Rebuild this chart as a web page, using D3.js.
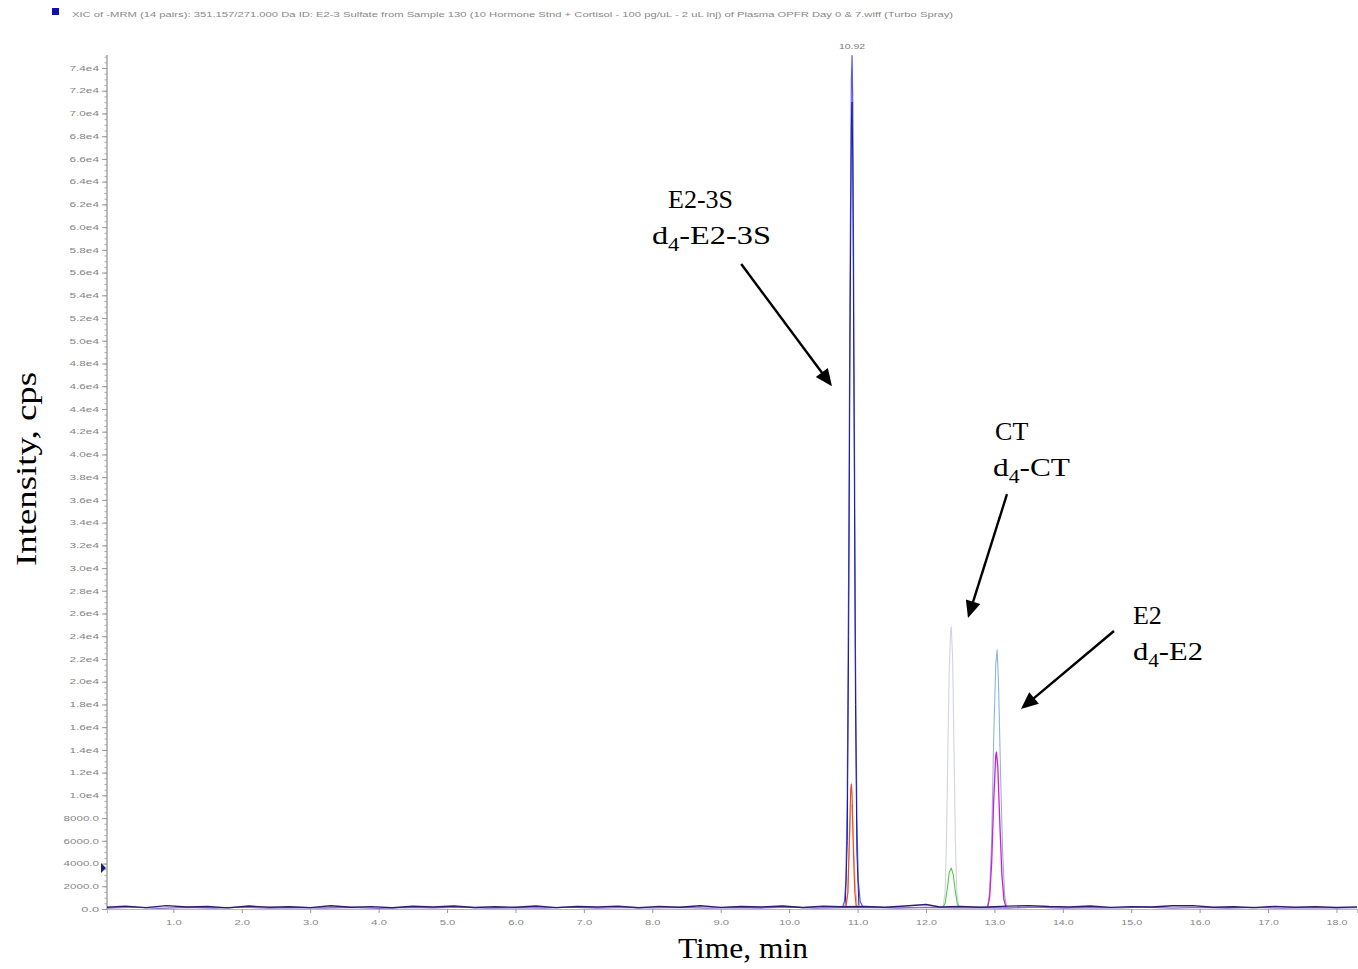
<!DOCTYPE html>
<html>
<head>
<meta charset="utf-8">
<script src="https://cdn.jsdelivr.net/npm/d3@7"></script>
<style>
  html, body { margin: 0; padding: 0; background: #fff; }
  svg { display: block; }
</style>
</head>
<body>
<svg id="chart" width="1358" height="969"></svg>
<script>
// ---------------- DATA ----------------
const titleText = "XIC of -MRM (14 pairs): 351.157/271.000 Da ID: E2-3 Sulfate from Sample 130 (10 Hormone Stnd + Cortisol - 100 pg/uL - 2 uL inj) of Plasma OPFR Day 0 & 7.wiff (Turbo Spray)";
const xTickValues = [1,2,3,4,5,6,7,8,9,10,11,12,13,14,15,16,17,18];
const yTickValues = d3.range(0, 74001, 2000);
const peakLabel = {t: 10.92, v: 75100, text: "10.92"};

// baseline noise (time, intensity)
const baselineNavy = [[0.03,150],[0.3,250],[0.6,120],[0.9,300],[1.2,180],[1.5,220],[1.8,100],[2.1,260],[2.4,150],[2.7,200],[3.0,120],[3.3,280],[3.6,160],[3.9,210],[4.2,110],[4.5,240],[4.8,170],[5.1,260],[5.4,130],[5.7,200],[6.0,150],[6.3,270],[6.6,120],[6.9,220],[7.2,180],[7.5,250],[7.8,110],[8.1,230],[8.4,160],[8.7,280],[9.0,140],[9.3,220],[9.6,180],[9.9,260],[10.2,130],[10.5,240],[10.75,200],[11.1,220],[11.4,150],[11.7,260],[12.0,400],[12.2,180],[12.5,230],[12.8,160],[13.2,250],[13.5,300],[13.8,220],[14.1,180],[14.4,260],[14.7,140],[15.0,210],[15.3,170],[15.6,280],[15.9,300],[16.2,150],[16.5,200],[16.8,120],[17.1,230],[17.4,160],[17.7,210],[18.0,130],[18.3,190]];
const baselinePurple = [[0.03,80],[0.4,160],[0.8,60],[1.2,140],[1.6,90],[2.0,170],[2.4,70],[2.8,130],[3.2,90],[3.6,150],[4.0,60],[4.4,140],[4.8,100],[5.2,170],[5.6,70],[6.0,120],[6.4,90],[6.8,160],[7.2,80],[7.6,140],[8.0,100],[8.4,150],[8.8,70],[9.2,130],[9.6,90],[10.0,160],[10.4,80],[10.8,120],[11.2,140],[11.6,90],[12.0,150],[12.4,110],[12.8,130],[13.2,90],[13.6,160],[14.0,80],[14.4,130],[14.8,100],[15.2,170],[15.6,80],[16.0,140],[16.4,90],[16.8,150],[17.2,70],[17.6,130],[18.0,100],[18.3,120]];

// E2-3S transition (blue) around 10.92 min
const e23sBlue = [[10.78,150],[10.81,700],[10.83,2500],[10.85,10000],[10.87,30000],[10.89,55000],[10.91,73000],[10.92,75100],[10.93,71000],[10.95,47000],[10.97,22000],[10.99,8000],[11.01,2500],[11.04,600],[11.08,200]];
const e23sNavy = [[10.82,200],[10.85,6000],[10.87,24000],[10.89,50000],[10.91,69000],[10.92,71000],[10.93,66000],[10.95,42000],[10.97,18000],[10.99,5000],[11.02,300]];
// d4-E2-3S (red)
const d4e23sRed = [[10.83,150],[10.86,1500],[10.88,6000],[10.90,10500],[10.91,11000],[10.92,10000],[10.94,5000],[10.96,1500],[10.98,300],[11.00,150]];
const d4e23sPeach = [[10.82,150],[10.85,1200],[10.88,5500],[10.90,8800],[10.92,9200],[10.94,6000],[10.97,1800],[11.00,150]];
// CT (light grey) and d4-CT (green)
const ctGrey = [[12.25,150],[12.28,1500],[12.30,6000],[12.32,14000],[12.34,21000],[12.36,24500],[12.37,24800],[12.39,22000],[12.41,14000],[12.43,6000],[12.45,1500],[12.48,150]];
const d4ctGreen = [[12.25,150],[12.28,500],[12.31,1700],[12.34,3200],[12.37,3600],[12.40,3000],[12.43,1500],[12.46,400],[12.49,150]];
// E2 (light blue) and d4-E2 (magenta)
const e2LightBlue = [[12.90,150],[12.93,1500],[12.96,6000],[12.99,15000],[13.02,21500],[13.04,22800],[13.06,20000],[13.09,12000],[13.12,5000],[13.15,1200],[13.18,150]];
const d4e2Magenta = [[12.90,150],[12.93,1000],[12.96,4000],[12.99,9500],[13.02,13500],[13.03,13800],[13.05,12500],[13.08,7500],[13.11,3000],[13.14,800],[13.17,150]];

// annotation labels (time, intensity of text baseline-left) and arrows
const labelMain = ["E2-3S", "CT", "E2"];
const labelSub = ["E2-3S", "CT", "E2"];
const labelPos = [[8.23, 61700], [13.01, 41300], [15.025, 25100]];
const labelSubPos = [[7.995, 58550], [12.98, 38100], [15.025, 21950]];
const labelSubWidth = [119, 77, 70];
const arrowFrom = [[9.30, 56750], [13.184, 36500], [14.748, 24460]];
const arrowTo = [[10.626, 46000], [12.614, 25600], [13.389, 17600]];
const thresholdValue = 3600;

// ---------------- CHART ----------------
const svg = d3.select("#chart");
const x = d3.scaleLinear().domain([0.03, 18.3]).range([107, 1357]);
const y = d3.scaleLinear().domain([0, 74000]).range([909, 68]);

const tickColor = "#858585";
const tickFont = "Liberation Sans, Arial, sans-serif";

// title
svg.append("rect").attr("x", 52).attr("y", 8).attr("width", 7).attr("height", 7).attr("fill", "#1010b0");
svg.append("text").attr("x", 72).attr("y", 16.5)
  .attr("font-family", tickFont).attr("font-size", 8).attr("fill", "#888")
  .attr("textLength", 881).attr("lengthAdjust", "spacingAndGlyphs")
  .text(titleText);

// y axis (minor)
const yMinor = svg.append("g").attr("transform", "translate(107,0)")
  .call(d3.axisLeft(y).tickValues(d3.range(0, 75001, 500)).tickSize(2.5).tickFormat(""));
yMinor.select(".domain").remove();
yMinor.selectAll("line").attr("stroke", "#aaa");

const fmtY = d => d < 10000 ? d.toFixed(1) : (d / 10000).toFixed(1) + "e4";
const yAx = svg.append("g").attr("transform", "translate(107,0)")
  .call(d3.axisLeft(y).tickValues(yTickValues).tickSize(5).tickPadding(3).tickFormat(fmtY));
yAx.select(".domain").remove();
yAx.selectAll("line").attr("stroke", "#999");
yAx.selectAll("text").attr("font-family", tickFont).attr("font-size", 7).attr("fill", tickColor)
  .each(function(d){ const s = fmtY(d); d3.select(this).attr("textLength", s.length * 5.9).attr("lengthAdjust", "spacingAndGlyphs"); });
svg.append("line").attr("x1", 107).attr("x2", 107).attr("y1", 55).attr("y2", 910)
  .attr("stroke", "#9a9a9a").attr("stroke-width", 1.3);

// x axis
const xAx = svg.append("g").attr("transform", "translate(0,909)")
  .call(d3.axisBottom(x).tickValues(xTickValues).tickSize(4).tickPadding(7).tickFormat(d => d.toFixed(1)));
xAx.select(".domain").attr("stroke", "#bbb");
xAx.selectAll("line").attr("stroke", "#999");
xAx.selectAll("text").attr("font-family", tickFont).attr("font-size", 7).attr("fill", tickColor)
  .each(function(d){ const s = d.toFixed(1); d3.select(this).attr("textLength", s.length * 5.2).attr("lengthAdjust", "spacingAndGlyphs"); });

// lines
const line = d3.line().x(d => x(d[0])).y(d => y(d[1]));
const traces = [
  {d: ctGrey, c: "#d2d5df", w: 1.1},
  {d: e2LightBlue, c: "#92b4dc", w: 1.1},
  {d: d4ctGreen, c: "#4ccc4c", w: 1.1},
  {d: d4e2Magenta, c: "#d21ed2", w: 1.3},
  {d: e23sBlue, c: "#5a5aef", w: 1.2},
  {d: e23sNavy, c: "#1c1c9a", w: 1.0},
  {d: d4e23sPeach, c: "#f2b89a", w: 1.0},
  {d: d4e23sRed, c: "#e2502a", w: 1.2},
  {d: baselinePurple, c: "#9068c8", w: 1.3},
  {d: baselineNavy, c: "#2a1f70", w: 1.4}
];
svg.append("g").selectAll("path").data(traces).join("path")
  .attr("d", t => line(t.d))
  .attr("fill", "none").attr("stroke", t => t.c).attr("stroke-width", t => t.w)
  .attr("stroke-linejoin", "round");

// threshold marker
svg.append("path")
  .attr("d", `M101,${y(thresholdValue)-5} L106,${y(thresholdValue)} L101,${y(thresholdValue)+5} Z`)
  .attr("fill", "#1a1a80");

// peak label
svg.append("text").attr("x", x(peakLabel.t)).attr("y", y(peakLabel.v) - 6)
  .attr("text-anchor", "middle").attr("font-family", tickFont).attr("font-size", 7)
  .attr("fill", "#777").attr("textLength", 26).attr("lengthAdjust", "spacingAndGlyphs")
  .text(peakLabel.text);

// axis titles
const serif = "Liberation Serif, Times New Roman, serif";
svg.append("text").attr("transform", "translate(36,469) rotate(-90)")
  .attr("text-anchor", "middle").attr("font-family", serif).attr("font-size", 29).attr("fill", "#000")
  .attr("textLength", 194).attr("lengthAdjust", "spacingAndGlyphs")
  .text("Intensity, cps");
svg.append("text").attr("x", 743).attr("y", 958)
  .attr("text-anchor", "middle").attr("font-family", serif).attr("font-size", 29).attr("fill", "#000")
  .attr("textLength", 130).attr("lengthAdjust", "spacingAndGlyphs")
  .text("Time, min");

// annotations
const ann = svg.append("g").attr("font-family", serif).attr("font-size", 26).attr("fill", "#000");
labelMain.forEach((m, i) => {
  ann.append("text").attr("x", x(labelPos[i][0])).attr("y", y(labelPos[i][1])).text(m);
  const t = ann.append("text").attr("x", x(labelSubPos[i][0])).attr("y", y(labelSubPos[i][1]))
    .attr("textLength", labelSubWidth[i]).attr("lengthAdjust", "spacingAndGlyphs");
  t.append("tspan").text("d");
  t.append("tspan").attr("font-size", 18).attr("dy", 7).text("4");
  t.append("tspan").attr("dy", -7).text("-" + labelSub[i]);
});

// arrows
arrowFrom.forEach((f, i) => {
  const to = arrowTo[i];
  const x1 = x(f[0]), y1 = y(f[1]), x2 = x(to[0]), y2 = y(to[1]);
  const len = Math.hypot(x2 - x1, y2 - y1);
  const ux = (x2 - x1) / len, uy = (y2 - y1) / len;
  svg.append("line").attr("x1", x1).attr("y1", y1).attr("x2", x2 - ux * 8).attr("y2", y2 - uy * 8)
    .attr("stroke", "#000").attr("stroke-width", 2.4);
  const hl = 17, hw = 7.5;
  const bx = x2 - ux * hl, by = y2 - uy * hl;
  svg.append("path")
    .attr("d", `M${x2},${y2} L${bx - uy * hw},${by + ux * hw} L${bx + uy * hw},${by - ux * hw} Z`)
    .attr("fill", "#000");
});
</script>
</body>
</html>
